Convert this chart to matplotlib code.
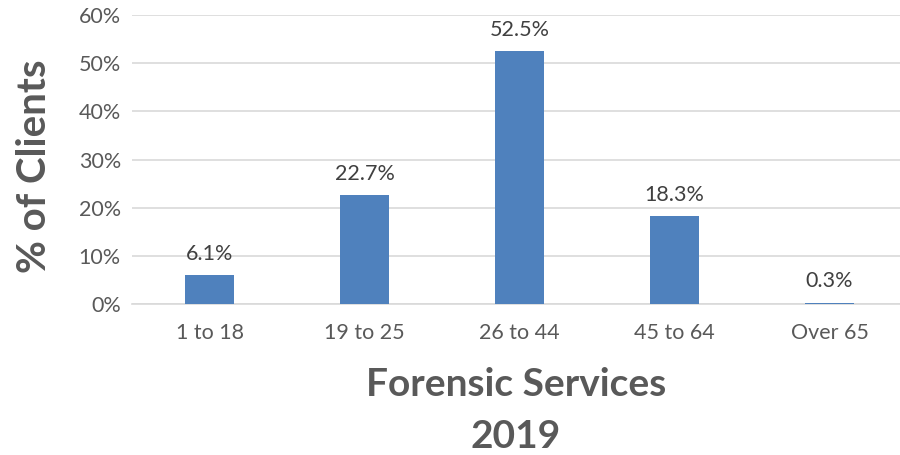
import matplotlib
matplotlib.use("Agg")
import matplotlib.pyplot as plt

categories = ["1 to 18", "19 to 25", "26 to 44", "45 to 64", "Over 65"]
values = [6.1, 22.7, 52.5, 18.3, 0.3]
yticks = [0, 10, 20, 30, 40, 50, 60]
ytick_labels = ["0%", "10%", "20%", "30%", "40%", "50%", "60%"]

plt.rcParams['font.family'] = ['Lato', 'DejaVu Sans']
txt = "#595959"

fig = plt.figure(figsize=(9, 4.55), dpi=100)
ax = fig.add_axes([132/900, 1-304/455, (907-132)/900, (304-15)/455])

x = range(len(categories))
bars = ax.bar(x, values, width=0.31, color="#4F81BD", zorder=3)
for xi, v in zip(x, values):
    ax.annotate(f"{v:.1f}%", (xi, v), xytext=(0, 8), textcoords="offset points",
                ha="center", va="bottom", fontsize=15.5, color="#404040")

ax.set_xlim(-0.5, len(categories) - 0.5)
ax.set_ylim(0, 60)
ax.set_yticks(yticks)
ax.set_yticklabels(ytick_labels, fontsize=15.5, color=txt)
ax.set_xticks(list(x))
ax.set_xticklabels(categories, fontsize=15.5, color=txt)
ax.yaxis.grid(True, color="#D9D9D9", linewidth=1.2, zorder=0)
ax.tick_params(axis="both", length=0, pad=8)
ax.tick_params(axis="x", pad=14)
for s in ["top", "right", "left"]:
    ax.spines[s].set_visible(False)
ax.spines["bottom"].set_color("#D9D9D9")
ax.spines["bottom"].set_linewidth(1.2)

fig.text(0.038, 1-166/455, "% of Clients", rotation=90, ha="center", va="center",
         fontsize=29, fontweight="bold", color=txt)
fig.text(516/900, 1-385/455, "Forensic Services", ha="center", va="center",
         fontsize=28, fontweight="bold", color=txt)
fig.text(516/900, 1-437/455, "2019", ha="center", va="center",
         fontsize=28, fontweight="bold", color=txt)

fig.savefig("out.png", dpi=100)
